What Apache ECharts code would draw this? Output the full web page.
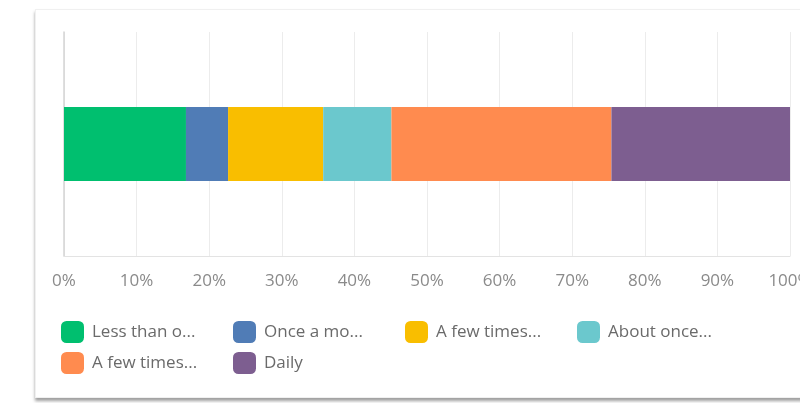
<!DOCTYPE html>
<html>
<head>
<meta charset="utf-8">
<title>How often</title>
<script src="https://cdn.jsdelivr.net/npm/echarts@6/dist/echarts.min.js"></script>
<style>
  html, body { margin: 0; padding: 0; background: #ffffff; }
  #wrap { position: relative; width: 800px; height: 403px; overflow: hidden; }
  #card {
    position: absolute; left: 35px; top: 9px; width: 800px; height: 387px;
    background: #ffffff; border: 1px solid #f0f0f0;
    box-shadow: 0 3px 3px rgba(0, 0, 0, 0.38);
  }
  #chart { position: absolute; left: 0; top: 0; width: 800px; height: 403px; }
</style>
</head>
<body>
<div id="wrap">
  <div id="card"></div>
  <div id="chart"></div>
</div>
<script>
// Answer categories (stacked into one 100% bar)
const categories = ['Responses'];
const answerNames = [
  'Less than once a month',
  'Once a month',
  'A few times a month',
  'About once a week',
  'A few times a week',
  'Daily'
];
// Share of respondents per answer, in percent
const answerShares = [16.8, 5.8, 13.1, 9.4, 30.3, 24.6];
const answerColors = ['#00bf6f', '#507cb6', '#f9be00', '#6bc8cd', '#ff8b4f', '#7d5e90'];
const tickValues = [0, 10, 20, 30, 40, 50, 60, 70, 80, 90, 100];

const FONT = '"Open Sans", sans-serif';

const chart = echarts.init(document.getElementById('chart'), null, { renderer: 'canvas' });

chart.setOption({
  animation: false,
  backgroundColor: 'transparent',
  grid: { left: 64, right: 10, top: 32, bottom: 147, containLabel: false, outerBoundsMode: 'none' },
  xAxis: {
    type: 'value',
    min: tickValues[0],
    max: tickValues[tickValues.length - 1],
    interval: 10,
    axisLine: { show: true, lineStyle: { color: '#e3e3e3', width: 1 } },
    axisTick: { show: false },
    splitLine: { show: true, lineStyle: { color: '#ececec', width: 1 } },
    axisLabel: {
      formatter: '{value}%',
      color: '#8a8a8a',
      fontFamily: FONT,
      fontSize: 17,
      margin: 17,
      hideOverlap: false
    }
  },
  yAxis: {
    type: 'category',
    data: categories,
    axisLine: { show: true, lineStyle: { color: '#d4d4d4', width: 1.5 } },
    axisTick: { show: false },
    axisLabel: { show: false },
    splitLine: { show: false }
  },
  legend: {
    left: 61,
    top: 321,
    width: 700,
    padding: 0,
    orient: 'horizontal',
    itemWidth: 23,
    itemHeight: 22,
    itemGap: 9,
    icon: 'roundRect',
    selectedMode: false,
    data: answerNames,
    textStyle: {
      color: '#6a6a6a',
      fontFamily: FONT,
      fontSize: 17,
      width: 110,
      overflow: 'truncate',
      ellipsis: '...',
      padding: [2, 22, 0, 3],
      backgroundColor: 'rgba(255,255,255,0)'
    }
  },
  series: answerNames.map((name, i) => ({
    name: name,
    type: 'bar',
    stack: 'total',
    barWidth: 74,
    itemStyle: { color: answerColors[i] },
    data: [answerShares[i]]
  }))
});
</script>
</body>
</html>
